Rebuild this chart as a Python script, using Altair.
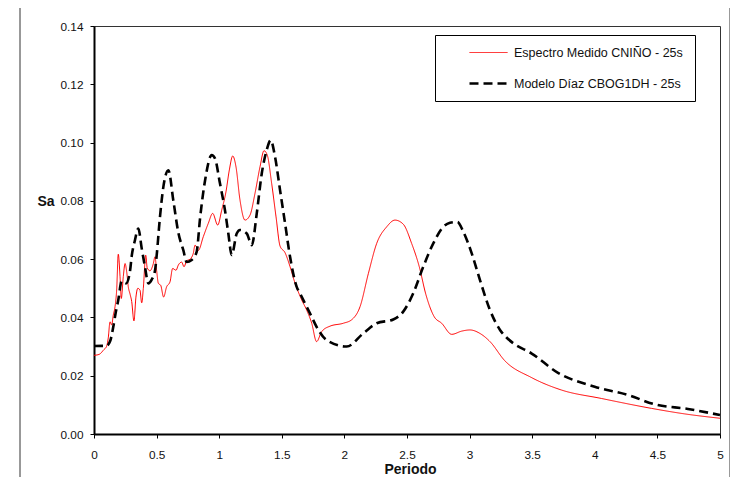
import altair as alt
import pandas as pd

# ---- data ----
series = ["Espectro Medido CNIÑO - 25s", "Modelo Díaz CBOG1DH  - 25s"]

red_x = [0.00, 0.04, 0.08, 0.10, 0.114, 0.128, 0.141, 0.154, 0.168, 0.181, 0.194, 0.208, 0.218,
         0.234, 0.248, 0.261, 0.274, 0.288, 0.301, 0.319, 0.335, 0.350, 0.367, 0.381, 0.394,
         0.413, 0.425, 0.447, 0.474, 0.487, 0.500, 0.514, 0.533, 0.556, 0.580, 0.607, 0.628,
         0.655, 0.674, 0.700, 0.719, 0.740, 0.767, 0.793, 0.807, 0.833, 0.873, 0.913, 0.948,
         0.988, 1.020, 1.054, 1.081, 1.108, 1.134, 1.166, 1.206, 1.246, 1.286, 1.326, 1.358,
         1.384, 1.419, 1.454, 1.486, 1.526, 1.566, 1.600, 1.659, 1.699, 1.739, 1.778, 1.818,
         1.885, 1.991, 2.058, 2.125, 2.191, 2.258, 2.338, 2.404, 2.470, 2.537, 2.598, 2.650,
         2.718, 2.777, 2.857, 2.937, 3.003, 3.083, 3.163, 3.280, 3.493, 3.733, 4.052, 4.452,
         4.718, 5.000]
red_y = [0.0270, 0.0273, 0.0290, 0.0300, 0.0330, 0.0385, 0.0374, 0.0408, 0.0437, 0.0494, 0.0617,
         0.0540, 0.0465, 0.0540, 0.0585, 0.0557, 0.0505, 0.0480, 0.0455, 0.0388, 0.0470, 0.0500,
         0.0494, 0.0450, 0.0500, 0.0614, 0.0570, 0.0560, 0.0585, 0.0608, 0.0562, 0.0517, 0.0510,
         0.0470, 0.0505, 0.0522, 0.0568, 0.0562, 0.0580, 0.0590, 0.0574, 0.0594, 0.0600, 0.0620,
         0.0648, 0.0630, 0.0677, 0.0723, 0.0757, 0.0717, 0.0768, 0.0831, 0.0906, 0.0954, 0.0917,
         0.0803, 0.0734, 0.0751, 0.0826, 0.0917, 0.0972, 0.0957, 0.0860, 0.0745, 0.0645, 0.0622,
         0.0574, 0.0525, 0.0460, 0.0425, 0.0380, 0.0317, 0.0351, 0.0370, 0.0380, 0.0392, 0.0437,
         0.0550, 0.0654, 0.0711, 0.0734, 0.0720, 0.0654, 0.0574, 0.0480, 0.0402, 0.0380, 0.0342,
         0.0353, 0.0357, 0.0345, 0.0317, 0.0252, 0.0194, 0.0151, 0.0122, 0.0088, 0.0069, 0.0054]

black_x = [0.00, 0.10, 0.130, 0.154, 0.175, 0.194, 0.221, 0.256, 0.288, 0.301, 0.327, 0.354,
           0.381, 0.407, 0.434, 0.461, 0.487, 0.500, 0.527, 0.554, 0.594, 0.634, 0.674, 0.714,
           0.740, 0.780, 0.820, 0.847, 0.887, 0.940, 0.966, 1.006, 1.046, 1.073, 1.100, 1.140,
           1.166, 1.220, 1.260, 1.300, 1.340, 1.379, 1.411, 1.446, 1.486, 1.526, 1.566, 1.619,
           1.645, 1.725, 1.792, 1.858, 2.018, 2.150, 2.258, 2.390, 2.470, 2.550, 2.630, 2.710,
           2.790, 2.843, 2.902, 2.950, 3.017, 3.083, 3.163, 3.243, 3.293, 3.350, 3.493, 3.706,
           3.999, 4.265, 4.478, 4.744, 5.000]
black_y = [0.0302, 0.0303, 0.0320, 0.0368, 0.0420, 0.0460, 0.0525, 0.0517, 0.0560, 0.0610, 0.0665,
           0.0705, 0.0637, 0.0574, 0.0517, 0.0530, 0.0560, 0.0610, 0.0745, 0.0848, 0.0905, 0.0800,
           0.0690, 0.0630, 0.0590, 0.0597, 0.0625, 0.0740, 0.0870, 0.0957, 0.0946, 0.0860, 0.0768,
           0.0688, 0.0614, 0.0688, 0.0700, 0.0688, 0.0648, 0.0757, 0.0894, 0.0974, 0.1008, 0.0951,
           0.0837, 0.0723, 0.0608, 0.0505, 0.0483, 0.0414, 0.0357, 0.0322, 0.0300, 0.0345, 0.0380,
           0.0393, 0.0420, 0.0483, 0.0574, 0.0654, 0.0711, 0.0725, 0.0728, 0.0694, 0.0620, 0.0528,
           0.0425, 0.0357, 0.0332, 0.0311, 0.0277, 0.0210, 0.0162, 0.0134, 0.0102, 0.0086, 0.0065]

x_ticks = [0, 0.5, 1, 1.5, 2, 2.5, 3, 3.5, 4, 4.5, 5]
y_ticks = [0.00, 0.02, 0.04, 0.06, 0.08, 0.10, 0.12, 0.14]

df = pd.concat([
    pd.DataFrame({"periodo": red_x, "sa": red_y, "serie": series[0], "orden": range(len(red_x))}),
    pd.DataFrame({"periodo": black_x, "sa": black_y, "serie": series[1], "orden": range(len(black_x))}),
])

FONT = "Liberation Sans"
NB = "\u00a0" * 7

legend = alt.Legend(
    title=None, orient="none", legendX=341, legendY=9,
    strokeColor="black", fillColor="white", padding=10,
    symbolType="stroke", symbolSize=1444, symbolOffset=23, clipHeight=15,
    rowPadding=16, labelOffset=5, labelLimit=0,
    labelFont=FONT, labelFontSize=12.5, labelColor="#111",
    labelExpr="datum.label + '" + NB + "'",
)

frame = alt.Chart(pd.DataFrame({"k": [0]})).mark_rect(
    filled=False, stroke="#333", strokeWidth=1
).encode(
    x=alt.value(-74), x2=alt.value(636), y=alt.value(-19), y2=alt.value(470)
)

lines = alt.Chart(df).mark_line(interpolate="monotone").encode(
    x=alt.X("periodo:Q",
            scale=alt.Scale(domain=[0, 5], nice=False, zero=False),
            axis=alt.Axis(values=x_ticks, format="~g", title="Periodo",
                          labelFlush=False, labelPadding=11, titleX=316, titleY=35,
                          titleAlign="center", titleBaseline="middle")),
    y=alt.Y("sa:Q",
            scale=alt.Scale(domain=[0, 0.14], nice=False),
            axis=alt.Axis(values=y_ticks, format=".2f", title="Sa",
                          labelFlush=False, labelPadding=7, titleAngle=0, titleX=-40, titleY=175,
                          titleAlign="right", titleBaseline="middle")),
    color=alt.Color("serie:N", scale=alt.Scale(domain=series, range=["#ff0000", "#000000"]),
                    legend=legend),
    strokeDash=alt.StrokeDash("serie:N", scale=alt.Scale(domain=series, range=[[1, 0], [9, 5]]),
                              legend=legend),
    strokeWidth=alt.StrokeWidth("serie:N", scale=alt.Scale(domain=series, range=[1, 2.6]),
                                legend=legend),
    order="orden:Q",
)

chart = alt.layer(frame, lines).properties(
    width=626, height=408,
    autosize=alt.AutoSizeParams(type="none"),
    padding={"left": 86, "top": 18, "right": 10, "bottom": 43},
    background="white",
).configure_view(
    stroke="#333", strokeWidth=1
).configure_axis(
    grid=False, domainColor="black", domainWidth=2, tickColor="black",
    tickSize=4, tickWidth=1,
    labelFont=FONT, labelFontSize=11.8, labelColor="#111",
    titleFont=FONT, titleFontSize=14, titleFontWeight="bold", titleColor="#111",
)

chart.save("out.html", embed_options={"renderer": "svg", "actions": False})
